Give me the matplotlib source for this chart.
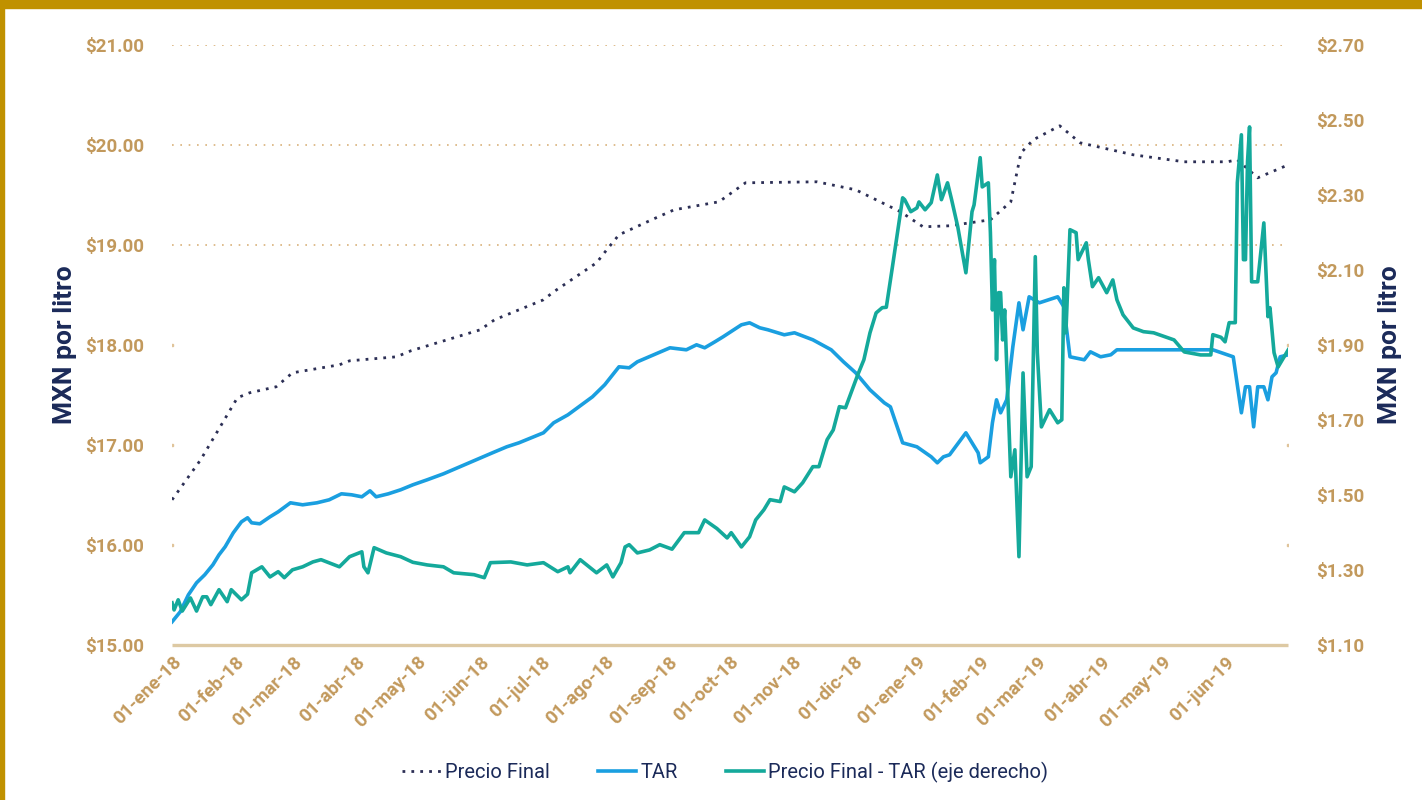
import matplotlib
matplotlib.use("Agg")
import matplotlib.pyplot as plt
import matplotlib.patches as mpatches
import numpy as np
import pandas as pd

plt.rcParams["font.family"] = ["Roboto", "DejaVu Sans"]

# --- datos (días desde 01-ene-18, valores en MXN) ---
inicio = pd.Timestamp("2018-01-01")

dias_pf = [0, 14, 32, 38, 51, 59, 82, 87, 110, 117, 151, 158, 182, 187, 208,
           213, 219, 235, 246, 268, 281, 316, 335, 357, 368, 381, 401, 411,
           416, 422, 435, 445, 471, 496, 517, 522, 532, 547]
precio_final = [16.45, 16.85, 17.47, 17.52, 17.58, 17.72, 17.80, 17.84, 17.88,
                17.94, 18.15, 18.25, 18.45, 18.53, 18.82, 18.95, 19.10, 19.25,
                19.35, 19.43, 19.62, 19.63, 19.55, 19.33, 19.18, 19.19, 19.25,
                19.43, 19.92, 20.05, 20.19, 20.02, 19.90, 19.83, 19.83, 19.85,
                19.67, 19.80]

dias_tar = [0, 4, 8, 12, 16, 20, 23, 26, 30, 34, 37, 39, 43, 48, 52, 58, 64,
            71, 77, 83, 88, 93, 97, 100, 106, 112, 118, 125, 133, 141, 149,
            157, 164, 170, 176, 182, 187, 194, 202, 206, 212, 219, 224, 228,
            236, 244, 252, 257, 261, 266, 270, 279, 283, 288, 292, 300, 305,
            314, 323, 329, 335, 342, 349, 352, 358, 365, 372, 375, 378, 381,
            389, 395, 396, 400, 402, 404, 406, 409, 412, 415, 417, 420, 425,
            434, 437, 440, 447, 450, 455, 460, 463, 479, 510, 520, 524, 526,
            528, 530, 532, 535, 537, 539, 541, 543, 547]
tar = [15.23, 15.33, 15.50, 15.62, 15.70, 15.80, 15.90, 15.98, 16.12, 16.23,
       16.27, 16.22, 16.21, 16.28, 16.33, 16.42, 16.40, 16.42, 16.45, 16.51,
       16.50, 16.48, 16.54, 16.48, 16.51, 16.55, 16.60, 16.65, 16.71, 16.78,
       16.85, 16.92, 16.98, 17.02, 17.07, 17.12, 17.22, 17.30, 17.42, 17.48,
       17.60, 17.78, 17.77, 17.83, 17.90, 17.97, 17.95, 18.00, 17.97, 18.03,
       18.08, 18.20, 18.22, 18.17, 18.15, 18.10, 18.12, 18.05, 17.95, 17.83,
       17.72, 17.55, 17.42, 17.38, 17.02, 16.98, 16.88, 16.82, 16.88, 16.90,
       17.12, 16.92, 16.82, 16.88, 17.22, 17.45, 17.32, 17.45, 17.98, 18.42,
       18.15, 18.48, 18.42, 18.48, 18.38, 17.88, 17.85, 17.93, 17.88, 17.90,
       17.95, 17.95, 17.95, 17.88, 17.32, 17.58, 17.58, 17.18, 17.58, 17.58,
       17.45, 17.68, 17.72, 17.88, 17.90]

dias_dif = [0, 1, 3, 5, 9, 12, 15, 17, 19, 23, 27, 29, 34, 37, 39, 44, 48, 52,
            55, 59, 64, 69, 73, 82, 87, 93, 94, 96, 99, 105, 112, 118, 125,
            133, 138, 148, 153, 156, 166, 174, 182, 189, 194, 195, 200, 208,
            213, 216, 220, 222, 224, 228, 234, 239, 245, 251, 258, 261, 267,
            272, 274, 279, 283, 286, 290, 293, 298, 300, 305, 309, 314, 317,
            321, 324, 327, 330, 336, 339, 342, 345, 348, 350, 353, 358, 359,
            362, 365, 366, 369, 372, 375, 377, 380, 382, 385, 389, 392, 393,
            396, 397, 400, 401, 402, 403, 404, 405, 406, 407, 408, 411, 413,
            415, 417, 419, 421, 423, 424, 426, 430, 434, 436, 437, 438, 440,
            443, 444, 448, 449, 451, 454, 458, 461, 463, 466, 471, 476, 481,
            491, 496, 504, 509, 510, 514, 516, 518, 521, 522, 524, 525, 526,
            527, 528, 529, 532, 535, 537, 538, 540, 542, 547]
diferencia = [1.212, 1.193, 1.220, 1.190, 1.225, 1.190, 1.228, 1.228, 1.207,
              1.247, 1.215, 1.247, 1.220, 1.235, 1.292, 1.308, 1.281, 1.295,
              1.279, 1.300, 1.308, 1.321, 1.327, 1.308, 1.335, 1.348, 1.308,
              1.292, 1.359, 1.345, 1.335, 1.320, 1.313, 1.308, 1.292, 1.287,
              1.279, 1.319, 1.321, 1.313, 1.319, 1.295, 1.308, 1.292, 1.327,
              1.292, 1.313, 1.281, 1.319, 1.361, 1.367, 1.345, 1.353, 1.367,
              1.355, 1.399, 1.399, 1.433, 1.410, 1.385, 1.399, 1.361, 1.388,
              1.433, 1.460, 1.487, 1.482, 1.521, 1.508, 1.532, 1.575, 1.575,
              1.647, 1.673, 1.735, 1.732, 1.820, 1.860, 1.932, 1.985, 1.999,
              2.000, 2.108, 2.292, 2.287, 2.255, 2.265, 2.281, 2.260, 2.279,
              2.353, 2.287, 2.332, 2.287, 2.215, 2.092, 2.255, 2.273, 2.399,
              2.321, 2.332, 2.200, 1.993, 2.127, 1.860, 2.039, 2.039, 1.913,
              1.993, 1.548, 1.620, 1.335, 1.825, 1.548, 1.575, 2.135, 1.879,
              1.681, 1.727, 1.692, 1.700, 2.052, 1.932, 2.207, 2.199, 2.127,
              2.172, 2.127, 2.055, 2.079, 2.039, 2.073, 2.020, 1.980, 1.945,
              1.935, 1.932, 1.913, 1.881, 1.873, 1.873, 1.927, 1.920, 1.908,
              1.959, 1.959, 2.332, 2.460, 2.127, 2.127, 2.388, 2.481, 2.068,
              2.068, 2.225, 1.975, 1.999, 1.879, 1.841, 1.887]

meses = ["ene-18", "feb-18", "mar-18", "abr-18", "may-18", "jun-18", "jul-18",
         "ago-18", "sep-18", "oct-18", "nov-18", "dic-18", "ene-19", "feb-19",
         "mar-19", "abr-19", "may-19", "jun-19"]
izq_ticks = [15, 16, 17, 18, 19, 20, 21]
der_ticks = [1.10, 1.30, 1.50, 1.70, 1.90, 2.10, 2.30, 2.50, 2.70]

# --- estilos ---
oro = "#c2995c"
azul_osc = "#1b2a59"
c_pf = "#2c2f55"
c_tar = "#1a9fe0"
c_dif = "#14a99b"

fechas = lambda d: inicio + pd.to_timedelta(d, unit="D")
tick_fechas = pd.date_range("2018-01-01", periods=len(meses), freq="MS")

fig = plt.figure(figsize=(14.22, 8), dpi=100)
ax = fig.add_axes([0.121, 0.194, 0.785, 0.75])
ax2 = ax.twinx()

# cuadrícula punteada
x0, x1 = fechas(0), fechas(547)
for v in izq_ticks[1:]:
    if v >= 19:
        ax.plot([x0, x1], [v, v], color="#d9b27a", lw=1.2, ls=(0, (1, 4)), zorder=0)
    else:
        ax.plot([x0, x1], [v, v], ls="none", marker="s", ms=1.6,
                color="#e0c49a", zorder=0)
ax.plot([x0, x1], [15, 15], color="#ddc9a3", lw=2.4, zorder=1,
        solid_capstyle="butt", clip_on=False)

ax.plot(fechas(dias_pf), precio_final, color=c_pf, lw=2.0, ls=(0, (1, 2.2)),
        zorder=3)
ax.plot(fechas(dias_tar), tar, color=c_tar, lw=2.6, zorder=2)
ax2.plot(fechas(dias_dif), diferencia, color=c_dif, lw=2.6, zorder=2)

ax.set_xlim(fechas(0), fechas(547))
ax.set_ylim(15, 21)
ax2.set_ylim(1.10, 2.70)

ax.set_yticks(izq_ticks)
ax.set_yticklabels([f"${v:.2f}" for v in izq_ticks])
ax2.set_yticks(der_ticks)
ax2.set_yticklabels([f"${v:.2f}" for v in der_ticks])
ax.set_xticks(tick_fechas)
ax.set_xticklabels(["01-" + m for m in meses], rotation=45, ha="right",
                   rotation_mode="anchor")

for a in (ax, ax2):
    for s in a.spines.values():
        s.set_visible(False)
    a.tick_params(length=0, labelcolor=oro, labelsize=13.5)
    for lbl in a.get_yticklabels() + a.get_xticklabels():
        lbl.set_fontweight("bold")
ax.tick_params(axis="y", pad=20)
ax2.tick_params(axis="y", pad=20)
ax.tick_params(axis="x", pad=6, labelsize=13.5)

ax.set_ylabel("MXN por litro", color=azul_osc, fontsize=19, fontweight="bold",
              labelpad=6)
ax2.set_ylabel("MXN por litro", color=azul_osc, fontsize=19, fontweight="bold",
               labelpad=10)

# leyenda
hand = [plt.Line2D([], [], color=c_pf, lw=2.0, ls=(0, (1, 2.2))),
        plt.Line2D([], [], color=c_tar, lw=2.6),
        plt.Line2D([], [], color=c_dif, lw=2.6)]
fig.legend(hand, ["Precio Final", "TAR", "Precio Final - TAR (eje derecho)"],
           loc="center", bbox_to_anchor=(0.51, 0.035), ncol=3, frameon=False,
           fontsize=14.5, labelcolor=azul_osc, handlelength=1.9,
           handletextpad=0.2, columnspacing=2.4)

# marco dorado
fig.patches.append(mpatches.Rectangle((0, 0.99), 1, 0.01, color="#c09100",
                                      transform=fig.transFigure, zorder=10))
fig.patches.append(mpatches.Rectangle((0, 0), 0.003, 1, color="#c09100",
                                      transform=fig.transFigure, zorder=10))

fig.savefig("out.png", dpi=100, facecolor="white")
